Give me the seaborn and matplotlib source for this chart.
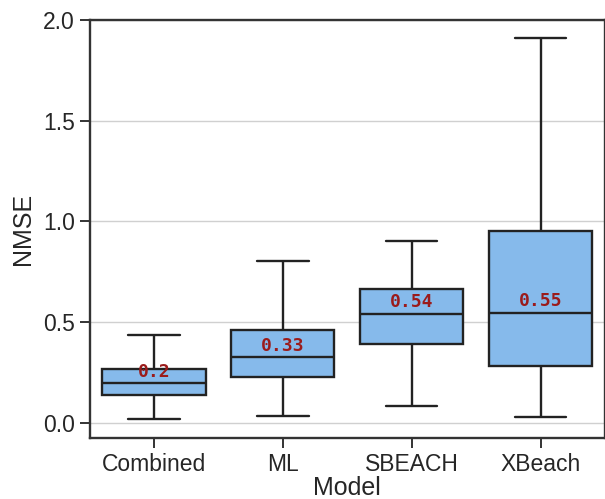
import numpy as np
import pandas as pd
import matplotlib
matplotlib.use('Agg')
import matplotlib.pyplot as plt
import seaborn as sns

models = ['Combined', 'ML', 'SBEACH', 'XBeach']
# five-number summaries: whisker low, Q1, median, Q3, whisker high
whisker_low = [0.020, 0.033, 0.086, 0.030]
q1 = [0.139, 0.230, 0.394, 0.283]
median = [0.197, 0.327, 0.543, 0.548]
q3 = [0.268, 0.460, 0.665, 0.953]
whisker_high = [0.437, 0.804, 0.903, 1.909]

rows = []
for i, m in enumerate(models):
    for v in (whisker_low[i], q1[i], median[i], q3[i], whisker_high[i]):
        rows.append((m, v))
df = pd.DataFrame(rows, columns=['Model', 'NMSE'])

sns.set_theme(style='ticks')
plt.rcParams['font.family'] = ['Liberation Sans', 'DejaVu Sans']

fig, ax = plt.subplots(figsize=(6.05, 4.99), dpi=100)
sns.boxplot(data=df, x='Model', y='NMSE', order=models, color='#86baeb',
            whis=(0, 100), width=0.8, linewidth=1.7, linecolor='#222222',
            saturation=1, ax=ax)

for i, m in enumerate(models):
    ax.text(i, median[i] + 0.012, str(round(median[i], 2)), ha='center', va='bottom',
            color='#9b1b1b', fontsize=13, fontweight='bold', family='DejaVu Sans Mono')

ax.set_ylim(-0.075, 2.0)
ax.set_yticks([0.0, 0.5, 1.0, 1.5, 2.0])
ax.yaxis.grid(True, color='#d0d0d0', linewidth=1)
ax.set_axisbelow(True)
for s in ax.spines.values():
    s.set_linewidth(1.7)
    s.set_color('#333333')
ax.tick_params(axis='both', labelsize=16.5, length=7, width=1.4, color='#333333')
ax.set_xlabel('Model', fontsize=18, labelpad=0)
ax.set_ylabel('NMSE', fontsize=18, labelpad=6)

fig.subplots_adjust(left=0.148, right=1.0, top=0.96, bottom=0.122)
fig.savefig('out.png', dpi=100)
